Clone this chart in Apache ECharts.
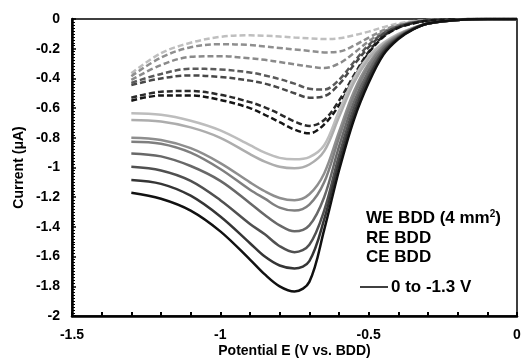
<!DOCTYPE html>
<html>
<head>
<meta charset="utf-8">
<script src="https://cdn.jsdelivr.net/npm/echarts@6/dist/echarts.min.js"></script>
<style>
    html, body { margin: 0; padding: 0; background: #fff; }
    #chart { width: 523px; height: 358px; }
</style>
</head>
<body>
<div id="chart"></div>
<script>
// potential grid (V vs. BDD)
var potential = [-1.3, -1.2, -1.1, -1.0, -0.9, -0.85, -0.8, -0.75, -0.7, -0.65, -0.6, -0.55, -0.5, -0.45, -0.4, -0.35, -0.3, -0.2, -0.1, 0];

// solid curves, light -> black
var solid1 = [-0.635, -0.645, -0.685, -0.75, -0.85, -0.90, -0.935, -0.945, -0.93, -0.85, -0.62, -0.40, -0.25, -0.16, -0.10, -0.06, -0.03, -0.006, 0, 0];
var solid2 = [-0.68, -0.69, -0.73, -0.80, -0.91, -0.96, -0.995, -1.005, -0.98, -0.89, -0.66, -0.43, -0.27, -0.17, -0.105, -0.06, -0.03, -0.006, 0, 0];
var solid3 = [-0.80, -0.815, -0.87, -0.97, -1.10, -1.16, -1.205, -1.22, -1.18, -1.04, -0.76, -0.49, -0.30, -0.18, -0.11, -0.062, -0.03, -0.006, 0, 0];
var solid4 = [-0.826, -0.84, -0.90, -1.01, -1.15, -1.21, -1.27, -1.29, -1.25, -1.10, -0.80, -0.52, -0.32, -0.19, -0.115, -0.063, -0.03, -0.006, 0, 0];
var solid5 = [-0.905, -0.925, -0.99, -1.09, -1.24, -1.32, -1.39, -1.43, -1.39, -1.20, -0.86, -0.56, -0.35, -0.20, -0.12, -0.065, -0.03, -0.006, 0, 0];
var solid6 = [-0.995, -1.02, -1.09, -1.22, -1.38, -1.45, -1.53, -1.57, -1.52, -1.29, -0.92, -0.60, -0.38, -0.215, -0.125, -0.067, -0.03, -0.006, 0, 0];
var solid7 = [-1.084, -1.11, -1.19, -1.33, -1.51, -1.60, -1.66, -1.68, -1.63, -1.35, -0.97, -0.64, -0.40, -0.225, -0.13, -0.068, -0.03, -0.006, 0, 0];
var solid8 = [-1.17, -1.21, -1.29, -1.43, -1.62, -1.72, -1.80, -1.835, -1.77, -1.42, -1.02, -0.68, -0.43, -0.24, -0.135, -0.07, -0.03, -0.006, 0, 0];

// dashed curves, light -> black
var dash1 = [-0.366, -0.23, -0.16, -0.12, -0.11, -0.113, -0.118, -0.125, -0.13, -0.135, -0.13, -0.11, -0.085, -0.055, -0.03, -0.015, -0.006, -0.002, 0, 0];
var dash2 = [-0.385, -0.26, -0.19, -0.17, -0.175, -0.185, -0.195, -0.205, -0.215, -0.225, -0.22, -0.18, -0.125, -0.075, -0.04, -0.02, -0.008, -0.002, 0, 0];
var dash3 = [-0.41, -0.31, -0.255, -0.25, -0.265, -0.275, -0.29, -0.305, -0.32, -0.33, -0.30, -0.23, -0.15, -0.085, -0.045, -0.022, -0.009, -0.002, 0, 0];
var dash4 = [-0.43, -0.37, -0.335, -0.34, -0.36, -0.38, -0.405, -0.435, -0.47, -0.475, -0.41, -0.29, -0.175, -0.095, -0.05, -0.024, -0.01, -0.002, 0, 0];
var dash5 = [-0.445, -0.40, -0.38, -0.39, -0.415, -0.435, -0.465, -0.50, -0.53, -0.52, -0.44, -0.31, -0.19, -0.10, -0.052, -0.025, -0.01, -0.002, 0, 0];
var dash6 = [-0.53, -0.49, -0.485, -0.51, -0.56, -0.595, -0.64, -0.69, -0.72, -0.68, -0.55, -0.38, -0.22, -0.115, -0.058, -0.028, -0.011, -0.002, 0, 0];
var dash7 = [-0.55, -0.515, -0.515, -0.545, -0.60, -0.645, -0.695, -0.745, -0.77, -0.71, -0.58, -0.40, -0.23, -0.12, -0.06, -0.03, -0.012, -0.002, 0, 0];

var solidList = [solid1, solid2, solid3, solid4, solid5, solid6, solid7, solid8];
var solidColors = ['#bdbdbd', '#adadad', '#8e8e8e', '#7f7f7f', '#686868', '#505050', '#353535', '#111111'];
var dashList = [dash1, dash2, dash3, dash4, dash5, dash6, dash7];
var dashColors = ['#bfbfbf', '#8f8f8f', '#8a8a8a', '#5a5a5a', '#484848', '#2a2a2a', '#151515'];

var yTicks = [0, -0.2, -0.4, -0.6, -0.8, -1, -1.2, -1.4, -1.6, -1.8, -2];
var xTicks = [-1.5, -1, -0.5, 0];
var legendLines = ['WE BDD (4 mm{sup|2})', 'RE BDD', 'CE BDD'];
var legendItem = '0 to -1.3 V';

function pairs(ys) {
    var out = [];
    for (var i = 0; i < potential.length; i++) {
        out.push([potential[i], ys[i]]);
    }
    return out;
}

var series = [];
for (var i = 0; i < dashList.length; i++) {
    series.push({
        type: 'line',
        data: pairs(dashList[i]),
        showSymbol: false,
        smooth: 0.35,
        lineStyle: { color: dashColors[i], width: 2.5, type: [6, 3] },
        silent: true
    });
}
for (var j = 0; j < solidList.length; j++) {
    series.push({
        type: 'line',
        data: pairs(solidList[j]),
        showSymbol: false,
        smooth: 0.35,
        lineStyle: { color: solidColors[j], width: 2.5 },
        silent: true
    });
}

var myChart = echarts.init(document.getElementById('chart'));
var fontFam = 'Arial, Liberation Sans, sans-serif';

// legend block drawn as plain text inside the plot
var graphics = [];
var legendY = [218, 238, 257];
for (var k = 0; k < legendLines.length; k++) {
    graphics.push({
        type: 'text', x: 366, y: legendY[k],
        style: {
            text: legendLines[k], verticalAlign: 'middle',
            fontFamily: fontFam, fontWeight: 'bold', fontSize: 17, fill: '#000',
            rich: { sup: { fontSize: 10, fontWeight: 'bold', fontFamily: fontFam, fill: '#000', padding: [0, 0, 8, 0] } }
        }
    });
}
graphics.push({
    type: 'line', shape: { x1: 360, y1: 287, x2: 388, y2: 287 },
    style: { stroke: '#000', lineWidth: 1.5 }
});
graphics.push({
    type: 'text', x: 391, y: 287,
    style: { text: legendItem, verticalAlign: 'middle', fontFamily: fontFam, fontWeight: 'bold', fontSize: 17, fill: '#000' }
});

var option = {
    animation: false,
    backgroundColor: '#fff',
    grid: {
        left: 72, right: 6, top: 19, bottom: 42,
        outerBoundsMode: 'none',
        containLabel: false,
        show: true, borderColor: '#000', borderWidth: 1.5
    },
    xAxis: {
        type: 'value',
        min: -1.5, max: 0, interval: 0.5,
        name: 'Potential E (V vs. BDD)',
        nameLocation: 'middle',
        nameGap: 28,
        nameMoveOverlap: false,
        nameTextStyle: { fontFamily: fontFam, fontWeight: 'bold', fontSize: 14, color: '#000' },
        axisLine: { onZero: false, lineStyle: { color: '#000', width: 2.5 } },
        axisTick: { inside: true, length: 4, lineStyle: { color: '#000', width: 2 } },
        minorTick: { show: true, splitNumber: 5, length: 4, lineStyle: { color: '#000', width: 2 } },
        axisLabel: {
            margin: 12, fontFamily: fontFam, fontWeight: 'bold', fontSize: 14, color: '#000',
            formatter: function (v) { return xTicks.indexOf(v) >= 0 ? String(v) : ''; }
        },
        splitLine: { show: false }
    },
    yAxis: {
        type: 'value',
        min: -2, max: 0, interval: 0.2,
        name: 'Current (μA)',
        nameLocation: 'middle',
        nameGap: 46,
        nameMoveOverlap: false,
        nameTextStyle: { fontFamily: fontFam, fontWeight: 'bold', fontSize: 14, color: '#000' },
        axisLine: { onZero: false, lineStyle: { color: '#000', width: 2.5 } },
        axisTick: { inside: true, length: 4, lineStyle: { color: '#000', width: 1.5 } },
        minorTick: { show: true, splitNumber: 10, length: 3, lineStyle: { color: '#000', width: 1 } },
        axisLabel: {
            margin: 12, fontFamily: fontFam, fontWeight: 'bold', fontSize: 14, color: '#000',
            formatter: function (v) {
                var r = Math.round(v * 10) / 10;
                return yTicks.indexOf(r) >= 0 ? String(r) : '';
            }
        },
        splitLine: { show: false }
    },
    graphic: graphics,
    series: series
};

myChart.setOption(option);
</script>
</body>
</html>
